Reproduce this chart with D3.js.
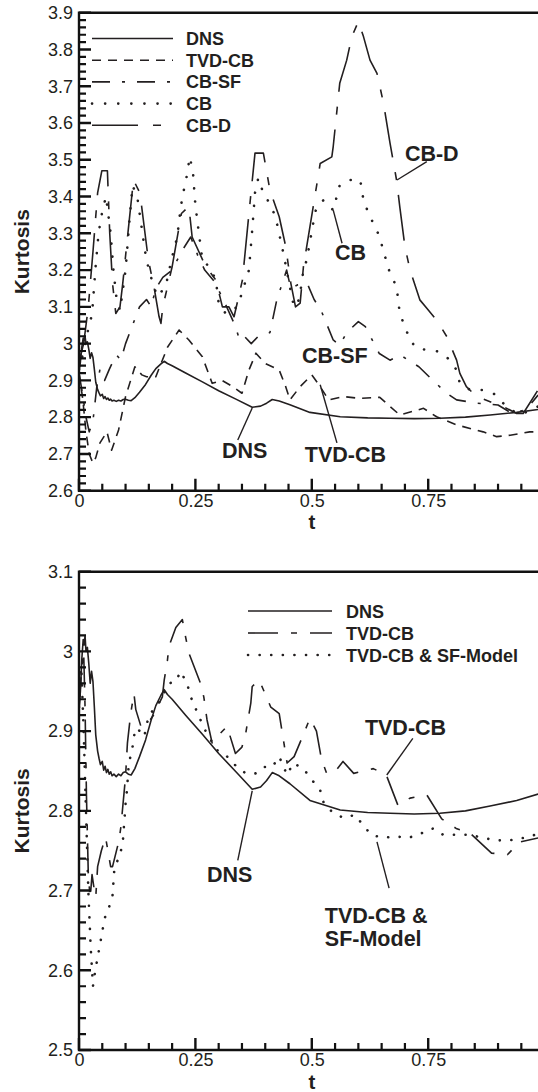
<!DOCTYPE html>
<html><head><meta charset="utf-8">
<script src="https://cdn.jsdelivr.net/npm/d3@7"></script>
<style>
body{margin:0;background:#fff}
svg{display:block}
text{font-family:"Liberation Sans",Arial,Helvetica,sans-serif;fill:#231f20}
</style>
</head><body>
<svg id="chart" width="538" height="1092"></svg>
<script>
// ---------- DATA ----------
const xTickValues = [0, 0.25, 0.5, 0.75];
const xTickLabels = ["0", "0.25", "0.5", "0.75"];
const topYTickValues = [2.6, 2.7, 2.8, 2.9, 3.0, 3.1, 3.2, 3.3, 3.4, 3.5, 3.6, 3.7, 3.8, 3.9];
const topYTickLabels = ["2.6","2.7","2.8","2.9","3","3.1","3.2","3.3","3.4","3.5","3.6","3.7","3.8","3.9"];
const botYTickValues = [2.5, 2.6, 2.7, 2.8, 2.9, 3.0, 3.1];
const botYTickLabels = ["2.5","2.6","2.7","2.8","2.9","3","3.1"];

const topSeriesNames = ["DNS", "TVD-CB", "CB-SF", "CB", "CB-D"];
const botSeriesNames = ["DNS", "TVD-CB", "TVD-CB & SF-Model"];

// [t, kurtosis]
const dns = [[0,2.925],[0.003,2.95],[0.006,2.99],[0.009,3.015],[0.011,3.008],[0.013,3.02],[0.015,3.0],[0.018,3.005],[0.021,2.985],[0.024,2.96],[0.027,2.975],[0.03,2.962],[0.033,2.93],[0.036,2.895],[0.04,2.875],[0.043,2.866],[0.046,2.858],[0.05,2.862],[0.053,2.851],[0.056,2.856],[0.059,2.848],[0.062,2.852],[0.065,2.846],[0.068,2.849],[0.071,2.844],[0.075,2.846],[0.08,2.843],[0.085,2.846],[0.09,2.844],[0.095,2.848],[0.1,2.849],[0.106,2.846],[0.112,2.845],[0.12,2.853],[0.13,2.868],[0.143,2.889],[0.155,2.914],[0.165,2.932],[0.176,2.945],[0.183,2.952],[0.19,2.946],[0.2,2.94],[0.229,2.92],[0.265,2.896],[0.3,2.872],[0.337,2.849],[0.372,2.827],[0.39,2.83],[0.403,2.838],[0.415,2.848],[0.43,2.844],[0.453,2.834],[0.496,2.813],[0.561,2.801],[0.62,2.798],[0.668,2.797],[0.72,2.796],[0.775,2.797],[0.83,2.8],[0.883,2.806],[0.94,2.813],[0.986,2.821]];

const tvdcbTop = [[0,2.92],[0.008,2.85],[0.015,2.76],[0.022,2.70],[0.03,2.675],[0.036,2.69],[0.045,2.73],[0.06,2.76],[0.07,2.71],[0.085,2.765],[0.1,2.856],[0.12,2.937],[0.135,2.915],[0.145,2.91],[0.165,2.91],[0.19,2.99],[0.215,3.037],[0.236,3.01],[0.265,2.964],[0.286,2.892],[0.307,2.90],[0.33,2.883],[0.35,2.865],[0.365,2.928],[0.38,2.974],[0.40,2.946],[0.43,2.928],[0.444,2.883],[0.453,2.847],[0.475,2.883],[0.5,2.915],[0.518,2.883],[0.536,2.847],[0.568,2.856],[0.604,2.851],[0.646,2.854],[0.668,2.829],[0.689,2.806],[0.74,2.824],[0.768,2.801],[0.811,2.779],[0.868,2.76],[0.897,2.747],[0.926,2.751],[0.968,2.76],[0.986,2.76]];

const cbsfTop = [[0,2.92],[0.008,2.86],[0.015,2.80],[0.022,2.76],[0.03,2.79],[0.038,2.88],[0.045,2.93],[0.055,2.90],[0.065,2.93],[0.08,2.97],[0.09,2.955],[0.1,3.0],[0.115,3.05],[0.13,3.10],[0.145,3.12],[0.155,3.10],[0.165,3.15],[0.18,3.18],[0.2,3.2],[0.22,3.25],[0.24,3.29],[0.255,3.24],[0.27,3.2],[0.29,3.17],[0.31,3.12],[0.335,3.05],[0.345,3.01],[0.355,3.02],[0.37,3.0],[0.385,3.02],[0.41,3.03],[0.425,3.12],[0.446,3.2],[0.455,3.15],[0.47,3.16],[0.49,3.164],[0.505,3.12],[0.52,3.09],[0.546,3.01],[0.56,2.996],[0.575,3.03],[0.6,3.06],[0.615,3.046],[0.645,2.973],[0.668,2.955],[0.69,2.969],[0.73,2.937],[0.76,2.90],[0.79,2.865],[0.811,2.847],[0.855,2.838],[0.9,2.833],[0.93,2.81],[0.96,2.82],[0.986,2.86]];

const cbTop = [[0,2.93],[0.01,2.98],[0.02,3.04],[0.028,3.08],[0.035,3.2],[0.042,3.3],[0.05,3.36],[0.058,3.40],[0.063,3.35],[0.068,3.30],[0.074,3.2],[0.08,3.13],[0.088,3.09],[0.1,3.2],[0.108,3.33],[0.115,3.43],[0.125,3.40],[0.142,3.25],[0.15,3.2],[0.161,3.155],[0.168,3.128],[0.186,3.155],[0.2,3.236],[0.211,3.29],[0.216,3.345],[0.222,3.4],[0.23,3.445],[0.238,3.508],[0.245,3.463],[0.249,3.391],[0.253,3.345],[0.265,3.227],[0.28,3.209],[0.294,3.173],[0.3,3.11],[0.315,3.082],[0.333,3.091],[0.343,3.11],[0.365,3.2],[0.372,3.309],[0.378,3.41],[0.385,3.45],[0.396,3.409],[0.41,3.38],[0.422,3.345],[0.44,3.24],[0.452,3.16],[0.46,3.11],[0.468,3.10],[0.475,3.137],[0.482,3.2],[0.489,3.227],[0.503,3.327],[0.51,3.372],[0.525,3.39],[0.546,3.363],[0.56,3.431],[0.582,3.445],[0.604,3.445],[0.611,3.39],[0.622,3.354],[0.646,3.29],[0.653,3.255],[0.668,3.191],[0.682,3.155],[0.689,3.082],[0.7,3.046],[0.711,3.01],[0.725,2.987],[0.747,2.983],[0.775,2.978],[0.797,2.955],[0.811,2.928],[0.818,2.892],[0.84,2.874],[0.868,2.874],[0.89,2.865],[0.911,2.838],[0.94,2.81],[0.954,2.81],[0.986,2.829]];

const cbdTop = [[0,2.95],[0.01,3.0],[0.02,3.1],[0.03,3.25],[0.04,3.41],[0.049,3.47],[0.061,3.47],[0.066,3.30],[0.072,3.164],[0.079,3.082],[0.088,3.1],[0.094,3.164],[0.105,3.3],[0.117,3.445],[0.131,3.409],[0.149,3.227],[0.161,3.155],[0.172,3.073],[0.176,3.055],[0.18,3.10],[0.2,3.209],[0.22,3.354],[0.236,3.373],[0.243,3.29],[0.272,3.21],[0.294,3.173],[0.308,3.10],[0.322,3.10],[0.333,3.073],[0.351,3.173],[0.365,3.354],[0.378,3.518],[0.396,3.518],[0.41,3.418],[0.43,3.345],[0.444,3.264],[0.455,3.164],[0.465,3.10],[0.475,3.11],[0.482,3.209],[0.51,3.427],[0.518,3.49],[0.543,3.508],[0.546,3.536],[0.56,3.708],[0.575,3.771],[0.586,3.835],[0.6,3.876],[0.611,3.835],[0.625,3.771],[0.64,3.735],[0.654,3.654],[0.668,3.545],[0.682,3.445],[0.689,3.372],[0.7,3.264],[0.711,3.2],[0.732,3.119],[0.747,3.096],[0.768,3.064],[0.79,3.019],[0.811,2.955],[0.818,2.919],[0.832,2.883],[0.854,2.856],[0.883,2.842],[0.911,2.829],[0.94,2.81],[0.954,2.81],[0.986,2.874]];

const tvdcbBot = [[0,2.93],[0.006,2.98],[0.01,3.0],[0.013,2.93],[0.016,2.82],[0.02,2.72],[0.024,2.69],[0.028,2.72],[0.033,2.70],[0.036,2.692],[0.04,2.73],[0.048,2.75],[0.057,2.767],[0.068,2.73],[0.072,2.73],[0.086,2.763],[0.09,2.78],[0.1,2.843],[0.104,2.885],[0.111,2.922],[0.118,2.947],[0.122,2.927],[0.133,2.906],[0.14,2.906],[0.148,2.91],[0.16,2.92],[0.179,2.943],[0.183,2.964],[0.19,2.989],[0.193,3.006],[0.208,3.03],[0.222,3.04],[0.229,3.018],[0.236,2.998],[0.261,2.96],[0.268,2.943],[0.275,2.914],[0.286,2.885],[0.3,2.895],[0.318,2.906],[0.336,2.872],[0.35,2.88],[0.358,2.897],[0.369,2.935],[0.372,2.956],[0.387,2.964],[0.39,2.96],[0.412,2.93],[0.43,2.922],[0.447,2.86],[0.462,2.868],[0.48,2.893],[0.496,2.916],[0.51,2.90],[0.521,2.864],[0.532,2.847],[0.55,2.849],[0.567,2.862],[0.59,2.847],[0.632,2.853],[0.66,2.845],[0.685,2.807],[0.711,2.816],[0.747,2.82],[0.779,2.79],[0.81,2.778],[0.84,2.772],[0.886,2.747],[0.92,2.745],[0.947,2.761],[0.986,2.766]];

const sfBot = [[0,2.93],[0.005,2.98],[0.01,2.9],[0.015,2.8],[0.02,2.7],[0.025,2.63],[0.03,2.58],[0.035,2.60],[0.045,2.632],[0.055,2.665],[0.065,2.68],[0.072,2.694],[0.076,2.728],[0.088,2.745],[0.094,2.76],[0.1,2.809],[0.103,2.826],[0.107,2.86],[0.114,2.876],[0.118,2.893],[0.122,2.904],[0.129,2.901],[0.14,2.893],[0.15,2.92],[0.165,2.93],[0.175,2.939],[0.193,2.96],[0.208,2.962],[0.218,2.975],[0.232,2.96],[0.24,2.943],[0.25,2.929],[0.261,2.914],[0.272,2.90],[0.283,2.889],[0.297,2.876],[0.315,2.87],[0.336,2.857],[0.358,2.847],[0.379,2.847],[0.397,2.855],[0.415,2.855],[0.43,2.868],[0.447,2.845],[0.46,2.86],[0.482,2.853],[0.5,2.839],[0.518,2.826],[0.525,2.811],[0.543,2.799],[0.568,2.791],[0.593,2.795],[0.61,2.782],[0.628,2.77],[0.653,2.766],[0.679,2.768],[0.707,2.766],[0.736,2.772],[0.761,2.778],[0.782,2.77],[0.811,2.77],[0.84,2.77],[0.868,2.766],[0.897,2.763],[0.925,2.763],[0.954,2.766],[0.98,2.77]];

// ---------- RENDER ----------
const ink = "#231f20";
const svg = d3.select("#chart");
const x = d3.scaleLinear().domain([0, 1]).range([79, 544.6]);
const xMinor = d3.range(1, 20).filter(i => i % 5 !== 0).map(i => i * 0.05);

function panel(cfg) {
  const y = d3.scaleLinear().domain(cfg.yDomain).range(cfg.yRange);
  const g = svg.append("g");
  const top = cfg.yRange[1], bot = cfg.yRange[0], left = 79, right = 538;
  const clipId = "clip" + cfg.id;
  svg.append("clipPath").attr("id", clipId).append("rect")
    .attr("x", left).attr("y", top - 2).attr("width", right - left).attr("height", bot - top + 4);

  const nMinor = Math.round((cfg.yDomain[1] - cfg.yDomain[0]) / 0.02);
  const yMinor = d3.range(0, nMinor + 1).filter(i => i % 5 !== 0).map(i => cfg.yDomain[0] + i * 0.02);

  // tick labels via d3 axes
  const ya = g.append("g").attr("transform", `translate(${left},0)`)
    .call(d3.axisLeft(y).tickValues(cfg.yTicks).tickSize(0).tickPadding(6)
      .tickFormat((d, i) => cfg.yLabels[i]))
    .call(s => s.select(".domain").remove());
  ya.selectAll("line").remove();
  ya.selectAll("text").attr("font-size", 18).attr("fill", ink)
    .style("font-family", '"Liberation Sans", Arial, sans-serif');
  const xa = g.append("g").attr("transform", `translate(0,${bot})`)
    .call(d3.axisBottom(x).tickValues(xTickValues).tickSize(0).tickPadding(3.5)
      .tickFormat((d, i) => xTickLabels[i]))
    .call(s => s.select(".domain").remove());
  xa.selectAll("line").remove();
  xa.selectAll("text").attr("font-size", 18).attr("fill", ink)
    .style("font-family", '"Liberation Sans", Arial, sans-serif');

  // axis titles
  g.append("text").attr("transform", `translate(29,${(top + bot) / 2}) rotate(-90)`)
    .attr("text-anchor", "middle").attr("font-size", 21).attr("font-weight", "bold").text("Kurtosis");
  g.append("text").attr("x", x(0.5)).attr("y", bot + 38.6)
    .attr("text-anchor", "middle").attr("font-size", 20.5).attr("font-weight", "bold").text("t");

  // series
  const line = d3.line().x(d => x(d[0])).y(d => y(d[1]));
  const lg = g.append("g").attr("clip-path", `url(#${clipId})`);
  cfg.series.forEach(s => {
    lg.append("path").datum(s.data).attr("d", line)
      .attr("fill", "none").attr("stroke", ink)
      .attr("stroke-width", s.width || 1.6)
      .attr("stroke-dasharray", s.dash || null)
      .attr("stroke-linecap", s.cap || "butt")
      .attr("stroke-linejoin", "round");
  });

  // legend
  cfg.series.forEach((s, i) => {
    const ly = cfg.legend.y0 + i * cfg.legend.dy;
    g.append("line").attr("x1", cfg.legend.x1).attr("x2", cfg.legend.x2)
      .attr("y1", ly).attr("y2", ly)
      .attr("stroke", ink).attr("stroke-width", s.width || 1.6)
      .attr("stroke-dasharray", s.dash || null)
      .attr("stroke-linecap", s.cap || "butt");
    g.append("text").attr("x", cfg.legend.tx).attr("y", ly + 6.5)
      .attr("font-size", 18).attr("font-weight", "bold").text(s.name);
  });

  // annotations (anchored in data units)
  cfg.notes.forEach(n => {
    const t = g.append("text").attr("x", x(n.t)).attr("y", y(n.k))
      .attr("font-size", 21.5).attr("font-weight", "bold");
    n.text.forEach((ln, i) => t.append("tspan").attr("x", x(n.t)).attr("dy", i === 0 ? 0 : 23).text(ln));
    if (n.lead) {
      g.append("line").attr("x1", x(n.lead[0][0])).attr("y1", y(n.lead[0][1]))
        .attr("x2", x(n.lead[1][0])).attr("y2", y(n.lead[1][1]))
        .attr("stroke", ink).attr("stroke-width", 1.4);
    }
  });

  // frame + inward tick marks drawn last, on top
  const minorPath = yMinor.map(v => `M${left},${y(v)}h7`).join("") +
                    xMinor.map(v => `M${x(v)},${bot}v-7`).join("");
  const majorPath = cfg.yTicks.map(v => `M${left},${y(v)}h12`).join("") +
                    xTickValues.map(v => `M${x(v)},${bot}v-12`).join("");
  svg.append("path").attr("d", minorPath).attr("fill", "none")
    .attr("stroke", "#111").attr("stroke-width", 2.2);
  svg.append("path").attr("d", majorPath).attr("fill", "none")
    .attr("stroke", "#111").attr("stroke-width", 2.4);
  svg.append("path").attr("d", `M${right},${top}H${left}V${bot}H${right}`)
    .attr("fill", "none").attr("stroke", "#111").attr("stroke-width", 2.4);
}

panel({
  id: "top",
  yDomain: [2.6, 3.9], yRange: [490.7, 12.7],
  yTicks: topYTickValues, yLabels: topYTickLabels,
  series: [
    {name: topSeriesNames[0], data: dns, width: 1.6},
    {name: topSeriesNames[1], data: tvdcbTop, dash: "9,7"},
    {name: topSeriesNames[2], data: cbsfTop, dash: "18,12,3,12"},
    {name: topSeriesNames[3], data: cbTop, dash: "0.1,13", cap: "round", width: 2.6},
    {name: topSeriesNames[4], data: cbdTop, dash: "46,15,8,15"}
  ],
  legend: {x1: 92, x2: 173, tx: 186, y0: 38.5, dy: 21.7},
  notes: [
    {text: ["CB-D"], t: 0.700, k: 3.496, lead: [[0.747, 3.495], [0.683, 3.445]]},
    {text: ["CB"], t: 0.550, k: 3.227, lead: [[0.565, 3.273], [0.546, 3.363]]},
    {text: ["CB-SF"], t: 0.479, k: 2.947},
    {text: ["TVD-CB"], t: 0.485, k: 2.678, lead: [[0.554, 2.730], [0.518, 2.888]]},
    {text: ["DNS"], t: 0.307, k: 2.689, lead: [[0.341, 2.738], [0.372, 2.825]]}
  ]
});

panel({
  id: "bot",
  yDomain: [2.5, 3.1], yRange: [1050, 571.7],
  yTicks: botYTickValues, yLabels: botYTickLabels,
  series: [
    {name: botSeriesNames[0], data: dns, width: 1.6},
    {name: botSeriesNames[1], data: tvdcbBot, dash: "30,13,6,13"},
    {name: botSeriesNames[2], data: sfBot, dash: "0.1,11.5", cap: "round", width: 2.6}
  ],
  legend: {x1: 248, x2: 332, tx: 346, y0: 611, dy: 22},
  notes: [
    {text: ["TVD-CB"], t: 0.614, k: 2.895, lead: [[0.717, 2.891], [0.661, 2.845]]},
    {text: ["DNS"], t: 0.275, k: 2.711, lead: [[0.341, 2.738], [0.372, 2.825]]},
    {text: ["TVD-CB &", "SF-Model"], t: 0.528, k: 2.659, lead: [[0.666, 2.703], [0.640, 2.761]]}
  ]
});
</script>
</body></html>
